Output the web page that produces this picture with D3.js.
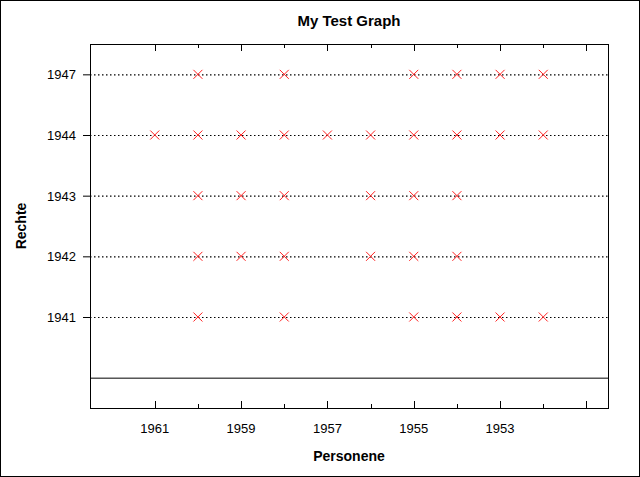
<!DOCTYPE html>
<html><head><meta charset="utf-8">
<script src="https://cdn.jsdelivr.net/npm/d3@7"></script>
<style>body{margin:0;background:#fff}</style>
</head><body>
<script>
// Categories and series
const years = [1962,1961,1960,1959,1958,1957,1956,1955,1954,1953,1952,1951];
const rechte = ["", "1941", "1942", "1943", "1944", "1947"];
const series = {
  "1947": [1960,1958,1955,1954,1953,1952],
  "1944": [1961,1960,1959,1958,1957,1956,1955,1954,1953,1952],
  "1943": [1960,1959,1958,1956,1955,1954],
  "1942": [1960,1959,1958,1956,1955,1954],
  "1941": [1960,1958,1955,1954,1953,1952]
};
const labelYears = [1961,1959,1957,1955,1953];

const W = 640, H = 477;
const pLeft = 90, pRight = 608, pTop = 44, pBottom = 408;

const svg = d3.select("body").append("svg")
  .attr("width", W).attr("height", H)
  .style("font-family", "Liberation Sans, Arial, sans-serif");

svg.append("rect").attr("x",0.5).attr("y",0.5).attr("width",W-1).attr("height",H-1)
  .attr("fill","#fff").attr("stroke","#000");

const x = d3.scalePoint().domain(years).range([pLeft, pRight]).padding(0.5);
const y = d3.scalePoint().domain(rechte).range([pBottom, pTop]).padding(0.5);

// plot frame
svg.append("rect").attr("x",pLeft+0.5).attr("y",pTop+0.5)
  .attr("width",pRight-pLeft).attr("height",pBottom-pTop)
  .attr("fill","none").attr("stroke","#000");

// baseline
svg.append("line").attr("x1",pLeft).attr("x2",pRight)
  .attr("y1",y("")+0.5).attr("y2",y("")+0.5).attr("stroke","#000");

// dotted grid lines
rechte.slice(1).forEach(r => {
  svg.append("line").attr("x1",pLeft).attr("x2",pRight)
    .attr("y1",y(r)+0.5).attr("y2",y(r)+0.5)
    .attr("stroke","#000").attr("stroke-width",1.2).attr("stroke-dasharray","1.5,2.5");
});

// x axis ticks (bottom and top)
years.slice(1).forEach(yr => {
  const major = labelYears.includes(yr) || yr === 1951;
  const len = major ? 7 : 4;
  const px = Math.round(x(yr)) + 0.5;
  svg.append("line").attr("x1",px).attr("x2",px).attr("y1",pBottom).attr("y2",pBottom-len).attr("stroke","#000");
  svg.append("line").attr("x1",px).attr("x2",px).attr("y1",pTop).attr("y2",pTop+len).attr("stroke","#000");
});
labelYears.forEach(yr => {
  svg.append("text").attr("x",x(yr)).attr("y",pBottom+25).attr("text-anchor","middle")
    .attr("font-size",13).text(yr);
});

// y axis ticks and labels
rechte.slice(1).forEach(r => {
  svg.append("line").attr("x1",pLeft-7).attr("x2",pLeft).attr("y1",y(r)+0.5).attr("y2",y(r)+0.5).attr("stroke","#000");
  svg.append("text").attr("x",pLeft-14).attr("y",y(r)+5).attr("text-anchor","end")
    .attr("font-size",13).text(r);
});

// markers
Object.keys(series).forEach(r => {
  series[r].forEach(yr => {
    const cx = x(yr), cy = y(r), s = 4.5;
    svg.append("path")
      .attr("d", `M${cx-s},${cy-s}L${cx+s},${cy+s}M${cx-s},${cy+s}L${cx+s},${cy-s}`)
      .attr("stroke","#ff2020").attr("stroke-width",1);
  });
});

// titles
svg.append("text").attr("x",(pLeft+pRight)/2).attr("y",26).attr("text-anchor","middle")
  .attr("font-size",15).attr("font-weight","bold").text("My Test Graph");
svg.append("text").attr("x",(pLeft+pRight)/2).attr("y",461).attr("text-anchor","middle")
  .attr("font-size",14).attr("font-weight","bold").text("Personene");
svg.append("text").attr("transform",`translate(26,${(pTop+pBottom)/2}) rotate(-90)`)
  .attr("text-anchor","middle").attr("font-size",14).attr("font-weight","bold").text("Rechte");
</script>
</body></html>
